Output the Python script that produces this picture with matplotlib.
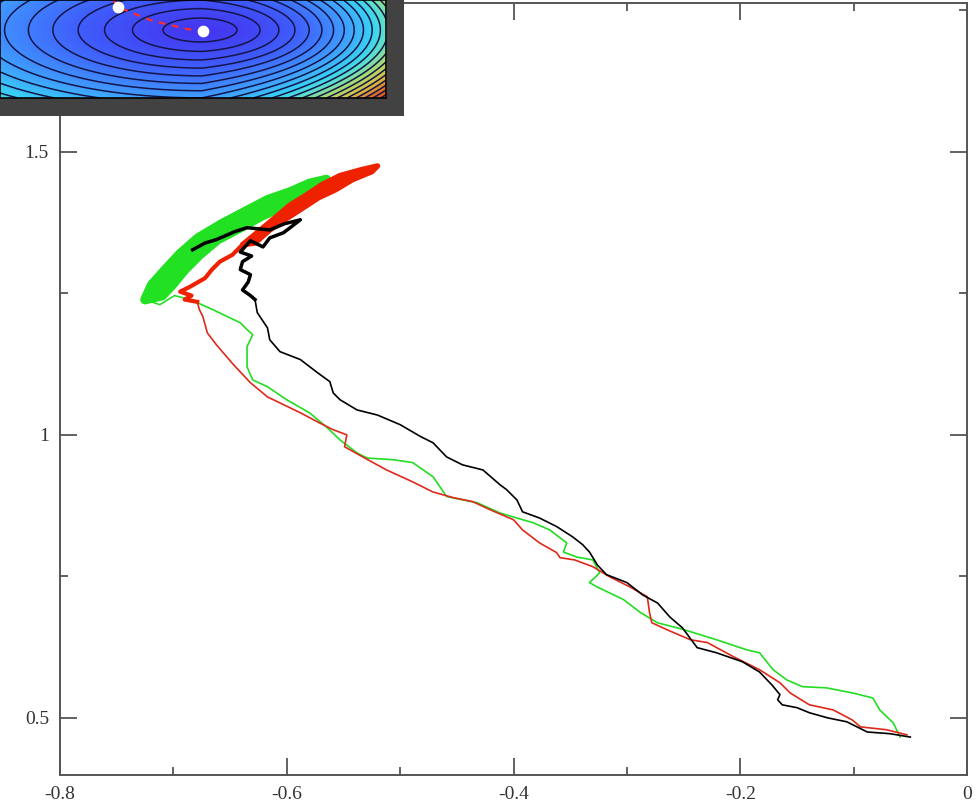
import numpy as np
import matplotlib.pyplot as plt
from matplotlib.colors import LinearSegmentedColormap
from matplotlib.ticker import MultipleLocator, FuncFormatter

plt.rcParams['font.family'] = ['Liberation Serif', 'DejaVu Serif']
plt.rcParams['axes.unicode_minus'] = False

# trajectories (upper end first, then down to the common end point)
black_x = [-0.683, -0.672, -0.662, -0.646, -0.635, -0.615, -0.602, -0.588, -0.597, -0.603,
           -0.615, -0.621, -0.632, -0.641, -0.631, -0.639, -0.641, -0.632, -0.634, -0.639,
           -0.632, -0.628, -0.626, -0.617, -0.615, -0.606, -0.588, -0.573, -0.562, -0.559,
           -0.553, -0.538, -0.520, -0.500, -0.482, -0.471, -0.459, -0.445, -0.427, -0.412,
           -0.406, -0.397, -0.392, -0.377, -0.362, -0.348, -0.339, -0.333, -0.326, -0.318,
           -0.300, -0.286, -0.273, -0.262, -0.251, -0.238, -0.221, -0.198, -0.183, -0.172,
           -0.165, -0.167, -0.163, -0.150, -0.139, -0.123, -0.106, -0.088, -0.068, -0.050]
black_y = [1.327, 1.339, 1.345, 1.359, 1.366, 1.362, 1.373, 1.380, 1.366, 1.357,
           1.348, 1.332, 1.343, 1.323, 1.316, 1.306, 1.292, 1.283, 1.270, 1.256,
           1.246, 1.239, 1.216, 1.189, 1.168, 1.147, 1.133, 1.110, 1.094, 1.074,
           1.062, 1.044, 1.035, 1.018, 0.997, 0.986, 0.961, 0.947, 0.938, 0.912,
           0.903, 0.885, 0.864, 0.853, 0.838, 0.820, 0.806, 0.793, 0.770, 0.753,
           0.739, 0.717, 0.703, 0.678, 0.659, 0.624, 0.615, 0.599, 0.581, 0.558,
           0.541, 0.532, 0.523, 0.518, 0.509, 0.500, 0.493, 0.475, 0.472, 0.466]

red_x = [-0.520, -0.525, -0.535, -0.542, -0.553, -0.557, -0.569, -0.572, -0.584, -0.588,
         -0.597, -0.602, -0.610, -0.615, -0.625, -0.628, -0.639, -0.648, -0.659, -0.666,
         -0.672, -0.685, -0.694, -0.684, -0.690, -0.679, -0.677, -0.674, -0.670, -0.662,
         -0.647, -0.632, -0.617, -0.588, -0.571, -0.559, -0.547, -0.549, -0.533, -0.512,
         -0.489, -0.471, -0.453, -0.436, -0.421, -0.400, -0.392, -0.377, -0.362, -0.359,
         -0.346, -0.330, -0.315, -0.297, -0.282, -0.280, -0.278, -0.265, -0.244, -0.229,
         -0.206, -0.183, -0.165, -0.156, -0.139, -0.118, -0.101, -0.094, -0.071, -0.053]
red_y = [1.475, 1.465, 1.468, 1.451, 1.458, 1.433, 1.442, 1.419, 1.422, 1.398,
         1.406, 1.380, 1.384, 1.362, 1.359, 1.339, 1.336, 1.318, 1.306, 1.292,
         1.277, 1.262, 1.253, 1.246, 1.239, 1.235, 1.221, 1.209, 1.180, 1.159,
         1.124, 1.092, 1.067, 1.039, 1.021, 1.009, 1.000, 0.979, 0.961, 0.938,
         0.917, 0.899, 0.889, 0.882, 0.868, 0.850, 0.832, 0.809, 0.792, 0.783,
         0.779, 0.767, 0.749, 0.731, 0.714, 0.686, 0.668, 0.656, 0.638, 0.633,
         0.608, 0.585, 0.562, 0.544, 0.523, 0.514, 0.496, 0.484, 0.479, 0.470]

green_x = [-0.565, -0.569, -0.580, -0.584, -0.597, -0.604, -0.617, -0.622, -0.637, -0.641,
           -0.657, -0.661, -0.678, -0.677, -0.694, -0.690, -0.707, -0.701, -0.719, -0.710,
           -0.725, -0.712, -0.699, -0.685, -0.665, -0.641, -0.635, -0.630, -0.635, -0.635,
           -0.630, -0.617, -0.600, -0.580, -0.565, -0.553, -0.538, -0.529, -0.506, -0.489,
           -0.471, -0.459, -0.432, -0.412, -0.397, -0.383, -0.368, -0.353, -0.356, -0.344,
           -0.330, -0.324, -0.333, -0.326, -0.303, -0.288, -0.273, -0.250, -0.221, -0.194,
           -0.183, -0.171, -0.159, -0.145, -0.124, -0.101, -0.083, -0.077, -0.065, -0.059]
green_y = [1.451, 1.433, 1.444, 1.419, 1.429, 1.403, 1.415, 1.387, 1.394, 1.366,
           1.373, 1.345, 1.348, 1.318, 1.320, 1.292, 1.292, 1.265, 1.265, 1.246,
           1.239, 1.230, 1.246, 1.239, 1.221, 1.198, 1.186, 1.177, 1.156, 1.120,
           1.097, 1.085, 1.062, 1.039, 1.014, 0.991, 0.968, 0.959, 0.956, 0.951,
           0.926, 0.891, 0.880, 0.862, 0.853, 0.845, 0.832, 0.809, 0.793, 0.784,
           0.779, 0.756, 0.739, 0.731, 0.709, 0.686, 0.668, 0.656, 0.638, 0.620,
           0.615, 0.585, 0.567, 0.555, 0.553, 0.544, 0.535, 0.514, 0.491, 0.466]

# inset: path drawn on the energy landscape (inset pixel coords)
inset_path_x = [112, 118, 130, 150, 170, 187, 203]
inset_path_y = [-2, 7, 12, 20, 25, 29, 31]
inset_dots_x = [118, 203]
inset_dots_y = [7, 31]


def band(xs, ys, n):
    # the jittery part swings between both edges of the band: outline it
    bx = np.array(xs[:n])
    by = np.array(ys[:n])
    return np.r_[bx[0::2], bx[1::2][::-1]], np.r_[by[0::2], by[1::2][::-1]]


fig = plt.figure(figsize=(9.8, 8.05), dpi=100)
ax = fig.add_axes([60 / 980, 30 / 805, 907 / 980, 772 / 805])

ax.plot(green_x, green_y, color='#22dd22', lw=1.2, zorder=2)
px, py = band(green_x, green_y, 21)
ax.fill(px, py, color='#22e022', lw=7, joinstyle='round', zorder=2)
ax.plot(green_x[:21], green_y[:21], color='#22e022', lw=4, zorder=2)
ax.plot(red_x, red_y, color='#dd2a1a', lw=1.2, zorder=3)
px, py = band(red_x, red_y, 17)
ax.fill(px, py, color='#ee2200', lw=4, joinstyle='round', zorder=3)
ax.plot(red_x[16:26], red_y[16:26], color='#ee2200', lw=3, zorder=3)
ax.plot(black_x, black_y, color='black', lw=1.2, zorder=4)
ax.plot(black_x[:22], black_y[:22], color='black', lw=2.5, zorder=4)

ax.set_xlim(-0.8, 0)
ax.set_ylim(0.399, 1.763)
ax.xaxis.set_major_locator(MultipleLocator(0.2))
ax.xaxis.set_minor_locator(MultipleLocator(0.1))
ax.yaxis.set_major_locator(MultipleLocator(0.5))
ax.yaxis.set_minor_locator(MultipleLocator(0.25))
fmt = FuncFormatter(lambda v, p: '%g' % round(v, 3))
ax.xaxis.set_major_formatter(fmt)
ax.yaxis.set_major_formatter(fmt)
ax.tick_params(which='both', direction='in', top=True, right=True, color='#555555', width=1.3)
ax.tick_params(which='major', length=12, labelsize=14, labelcolor='#333333')
ax.tick_params(which='minor', length=6)
ax.tick_params(axis='x', pad=8)
ax.tick_params(axis='y', pad=8)
for s in ax.spines.values():
    s.set_color('#555555')
    s.set_linewidth(1.4)

# gray frame of the inset
fa = fig.add_axes([0, 689 / 805, 404 / 980, 116 / 805])
fa.set_facecolor('#424242')
fa.set_xticks([])
fa.set_yticks([])
for s in fa.spines.values():
    s.set_visible(False)

# inset energy landscape
ins = fig.add_axes([0, 707 / 805, 386 / 980, 98 / 805])
cmap = LinearSegmentedColormap.from_list('land', [
    (0.0, '#4436f0'), (0.2, '#3f5efb'), (0.4, '#409cff'), (0.55, '#38d4f2'),
    (0.63, '#5ee0c8'), (0.73, '#a8dc70'), (0.85, '#d8c040'), (1.0, '#e06020')])
gx = np.linspace(0, 386, 500)
gy = np.linspace(0, 98, 160)
GX, GY = np.meshgrid(gx, gy)
cx, cy = 202, 30
dx = GX - cx
dy = GY - cy
F = np.hypot(dx / 39, dy / 12) ** 1.2 * np.exp(np.clip(dx, 0, None) / 270)
ins.imshow(F, extent=(0, 386, 98, 0), cmap=cmap, vmin=0, vmax=20, aspect='auto',
           interpolation='bilinear')
ins.contour(GX, GY, F, levels=np.arange(1, 24), colors='#15154a', linewidths=1.1)
ins.plot(inset_path_x, inset_path_y, color='#ff2a2a', lw=1.6, ls=(0, (3, 3)))
ins.scatter(inset_dots_x, inset_dots_y, s=55, color='white', zorder=5)
ins.set_xlim(0, 386)
ins.set_ylim(98, 0)
ins.set_xticks([])
ins.set_yticks([])
for s in ins.spines.values():
    s.set_color('black')
    s.set_linewidth(1.2)

fig.savefig('out.png', dpi=100)
